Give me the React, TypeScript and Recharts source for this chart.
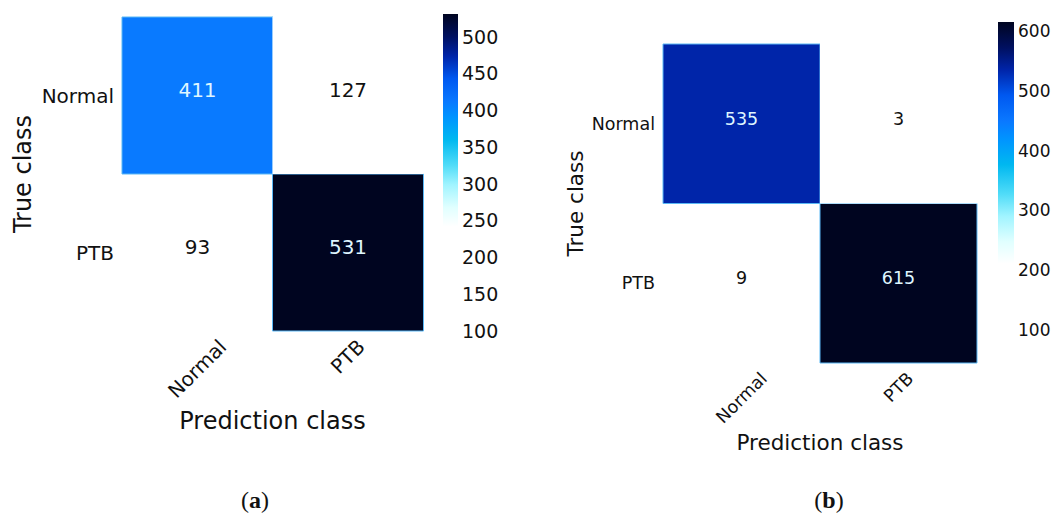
import React from 'react';
import { BarChart, Bar, XAxis, YAxis, Cell, LabelList, Label } from 'recharts';

// Class names shared by both confusion matrices
const classes = ['Normal', 'PTB'];
// Counts: rows = true class, columns = predicted class
const countsA = [
  [411, 127],
  [93, 531],
];
const countsB = [
  [535, 3],
  [9, 615],
];
// Colour bar tick values
const ticksA = [100, 150, 200, 250, 300, 350, 400, 450, 500];
const ticksB = [100, 200, 300, 400, 500, 600];

const FONT = '"DejaVu Sans", "Liberation Sans", sans-serif';

// White -> cyan -> blue -> navy colour map
const cmap: [number, string][] = [
  [0, '#ffffff'],
  [0.34, '#ffffff'],
  [0.4, '#e0ffff'],
  [0.47, '#a0f4ff'],
  [0.53, '#50dcf8'],
  [0.61, '#00b8f0'],
  [0.68, '#0094ff'],
  [0.73, '#0a78ff'],
  [0.8, '#0058f0'],
  [0.87, '#0024a8'],
  [0.93, '#001060'],
  [1, '#000520'],
];

const hex = (c: string) => [1, 3, 5].map((k) => parseInt(c.slice(k, k + 2), 16));

function colorAt(t: number): string {
  const u = Math.max(0, Math.min(1, t));
  for (let k = 1; k < cmap.length; k++) {
    const [t1, c1] = cmap[k];
    const [t0, c0] = cmap[k - 1];
    if (u <= t1) {
      const f = t1 === t0 ? 0 : (u - t0) / (t1 - t0);
      const a = hex(c0);
      const b = hex(c1);
      const m = a.map((v, i) => Math.round(v + (b[i] - v) * f));
      return `rgb(${m[0]},${m[1]},${m[2]})`;
    }
  }
  return cmap[cmap.length - 1][1];
}

let measureCtx: CanvasRenderingContext2D | null = null;
function textWidth(text: string, size: number): number {
  if (!measureCtx) measureCtx = document.createElement('canvas').getContext('2d');
  if (!measureCtx) return text.length * size * 0.62;
  measureCtx.font = `${size}px "DejaVu Sans"`;
  return measureCtx.measureText(text).width;
}

type Dims = {
  width: number;
  height: number;
  top: number;
  right: number;
  bottom: number;
  yAxisWidth: number;
  xAxisHeight: number;
  tickSize: number;
  titleSize: number;
  xTickGap: number;
  yTitleX: number;
  xTitleY: number;
  numShift: number;
};

function RotatedTick(props: any) {
  const { x, y, payload, size } = props;
  const label = String(payload.value);
  const w = textWidth(label, size);
  const h = size * 0.73;
  const cy = y + Math.SQRT1_2 * (w + h) / 2;
  return (
    <text
      x={x}
      y={cy}
      transform={`rotate(-45, ${x}, ${cy})`}
      textAnchor="middle"
      dominantBaseline="central"
      fontFamily={FONT}
      fontSize={size}
      fill="#111"
    >
      {label}
    </text>
  );
}

function Matrix({ counts, dims }: { counts: number[][]; dims: Dims }) {
  const n = classes.length;
  const flat = counts.flat();
  const lo = Math.min(...flat);
  const hi = Math.max(...flat);
  const t = (v: number) => (v - lo) / (hi - lo);

  // one entry per predicted class; each true class is a unit-high stacked cell
  const table = classes.map((pred, j) => {
    const row: Record<string, any> = { pred };
    classes.forEach((_, i) => {
      row[`row${i}`] = 1;
      row[`count${i}`] = counts[i][j];
    });
    return row;
  });
  const order = classes.map((_, i) => n - 1 - i); // bottom row first
  const yTicks = classes.map((_, i) => n - 0.5 - i);

  return (
    <BarChart
      width={dims.width}
      height={dims.height}
      data={table}
      barCategoryGap={0}
      barGap={0}
      margin={{ top: dims.top, right: dims.right, bottom: dims.bottom, left: 0 }}
    >
      <XAxis
        dataKey="pred"
        height={dims.xAxisHeight}
        axisLine={false}
        tickLine={false}
        tickSize={0}
        tickMargin={dims.xTickGap}
        interval={0}
        tick={<RotatedTick size={dims.tickSize} />}
      >
        <Label
          content={(p: any) => {
            const vb = p.viewBox || {};
            return (
              <text
                x={vb.x + vb.width / 2}
                y={vb.y + dims.xTitleY}
                textAnchor="middle"
                dominantBaseline="central"
                fontFamily={FONT}
                fontSize={dims.titleSize}
                fill="#111"
              >
                Prediction class
              </text>
            );
          }}
        />
      </XAxis>
      <YAxis
        type="number"
        domain={[0, n]}
        ticks={yTicks}
        width={dims.yAxisWidth}
        axisLine={false}
        tickLine={false}
        tickSize={0}
        tickMargin={8}
        tickFormatter={(v: number) => classes[Math.round(n - 0.5 - v)]}
        tick={{ fontFamily: FONT, fontSize: dims.tickSize, fill: '#111' }}
      >
        <Label
          content={(p: any) => {
            const vb = p.viewBox || {};
            const cx = vb.x + dims.yTitleX;
            const cy = vb.y + vb.height / 2;
            return (
              <text
                x={cx}
                y={cy}
                transform={`rotate(-90, ${cx}, ${cy})`}
                textAnchor="middle"
                dominantBaseline="central"
                fontFamily={FONT}
                fontSize={dims.titleSize}
                fill="#111"
              >
                True class
              </text>
            );
          }}
        />
      </YAxis>
      {order.map((i) => (
        <Bar key={i} dataKey={`row${i}`} stackId="m" isAnimationActive={false}>
          {table.map((r, j) => {
            const v = r[`count${i}`];
            const colored = t(v) > 0.36;
            return (
              <Cell
                key={j}
                fill={colorAt(t(v))}
                stroke={colored ? '#5ab8f5' : 'none'}
                strokeWidth={1}
              />
            );
          })}
          <LabelList
            dataKey={`count${i}`}
            content={(p: any) => {
              const v = Number(p.value);
              const dark = t(v) > 0.5;
              return (
                <text
                  x={p.x + p.width / 2}
                  y={p.y + p.height / 2 + dims.numShift}
                  textAnchor="middle"
                  dominantBaseline="central"
                  fontFamily={FONT}
                  fontSize={dims.tickSize}
                  fill={dark ? '#dff6ff' : '#111'}
                >
                  {v}
                </text>
              );
            }}
          />
        </Bar>
      ))}
    </BarChart>
  );
}

function ColorBar({
  id,
  counts,
  ticks,
  width,
  height,
  top,
  bottom,
  barWidth,
  size,
}: {
  id: string;
  counts: number[][];
  ticks: number[];
  width: number;
  height: number;
  top: number;
  bottom: number;
  barWidth: number;
  size: number;
}) {
  const flat = counts.flat();
  const lo = Math.min(...flat);
  const hi = Math.max(...flat);
  const data = [{ name: 'scale', span: [lo, hi] }];
  return (
    <BarChart
      width={width}
      height={height}
      data={data}
      barCategoryGap={0}
      margin={{ top, bottom, left: 0, right: 0 }}
    >
      <defs>
        <linearGradient id={id} x1="0" y1="1" x2="0" y2="0">
          {cmap.map(([o, c]) => (
            <stop key={o} offset={o} stopColor={c} />
          ))}
        </linearGradient>
      </defs>
      <XAxis dataKey="name" hide />
      <YAxis
        type="number"
        orientation="right"
        domain={[lo, hi]}
        allowDataOverflow
        ticks={ticks}
        width={width - barWidth}
        axisLine={false}
        tickLine={false}
        tickSize={0}
        tickMargin={4}
        tick={{ fontFamily: FONT, fontSize: size, fill: '#111', textAnchor: 'start' }}
      />
      <Bar dataKey="span" fill={`url(#${id})`} isAnimationActive={false} />
    </BarChart>
  );
}

const dimsA: Dims = {
  width: 530,
  height: 518,
  top: 17,
  right: 107,
  bottom: 67,
  yAxisWidth: 122,
  xAxisHeight: 120,
  tickSize: 20,
  titleSize: 24,
  xTickGap: 7,
  yTitleX: 23,
  xTitleY: 90,
  numShift: -6,
};

const dimsB: Dims = {
  width: 534,
  height: 518,
  top: 44,
  right: 87,
  bottom: 35,
  yAxisWidth: 133,
  xAxisHeight: 120,
  tickSize: 17.5,
  titleSize: 21.5,
  xTickGap: 8,
  yTitleX: 45,
  xTitleY: 79,
  numShift: -5,
};

export default function App() {
  const abs = (left: number, top: number): React.CSSProperties => ({
    position: 'absolute',
    left,
    top,
  });
  return (
    <div
      style={{
        position: 'fixed',
        left: 0,
        top: 0,
        width: 1064,
        height: 518,
        background: '#ffffff',
        overflow: 'hidden',
      }}
    >
      <div style={abs(0, 0)}>
        <Matrix counts={countsA} dims={dimsA} />
      </div>
      <div style={abs(443, 0)}>
        <ColorBar id="cbarA" counts={countsA} ticks={ticksA} width={75} height={360} top={14} bottom={24} barWidth={15} size={19} />
      </div>
      <div style={abs(530, 0)}>
        <Matrix counts={countsB} dims={dimsB} />
      </div>
      <div style={abs(998, 0)}>
        <ColorBar id="cbarB" counts={countsB} ticks={ticksB} width={66} height={410} top={22} bottom={22} barWidth={16} size={17} />
      </div>
      <svg width={1064} height={518} style={{ ...abs(0, 0), pointerEvents: 'none' }}>
        <text x={255} y={508} textAnchor="middle" fontFamily='"Liberation Serif", serif' fontSize={24} fill="#111">
          (<tspan fontWeight="bold">a</tspan>)
        </text>
        <text x={829} y={508} textAnchor="middle" fontFamily='"Liberation Serif", serif' fontSize={24} fill="#111">
          (<tspan fontWeight="bold">b</tspan>)
        </text>
      </svg>
    </div>
  );
}
